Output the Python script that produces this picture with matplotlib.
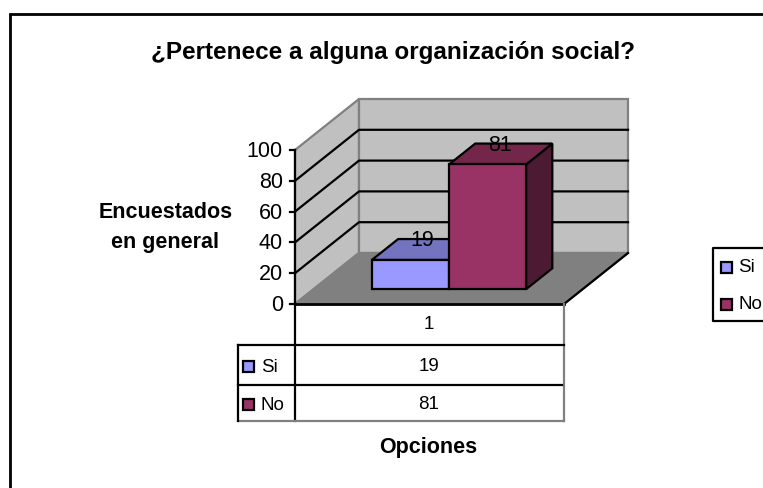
import matplotlib
matplotlib.use("Agg")
import matplotlib.pyplot as plt
from matplotlib.patches import Polygon, Rectangle

plt.rcParams['font.family'] = ['Liberation Sans', 'DejaVu Sans']

title = "¿Pertenece a alguna organización social?"
y_title = ["Encuestados", "en general"]
x_title = "Opciones"
categories = ["1"]
series = ["Si", "No"]
values = [19, 81]
y_ticks = [0, 20, 40, 60, 80, 100]
front_colors = ["#9999FF", "#993366"]
top_colors = ["#7373BF", "#732649"]
side_colors = ["#4D4D80", "#4D1A33"]

W, H = 763, 488
fig = plt.figure(figsize=(W / 100, H / 100), dpi=100)
ax = fig.add_axes([0, 0, 1, 1])
ax.set_xlim(0, W)
ax.set_ylim(H, 0)
ax.axis("off")

# oblique projection
X0, Y0, XW = 295, 304, 269
UNIT = 1.54
DX, DY = 64, -51

def P(frac, val, depth=0.0):
    return (X0 + frac * XW + depth * DX, Y0 - val * UNIT + depth * DY)

LW = 1.6
TOP = max(y_ticks)
# chart frame
ax.plot([10, 10, W], [H, 14, 14], color="black", lw=2.0, solid_joinstyle="miter", zorder=1)

# walls and floor
ax.add_patch(Polygon([P(0, 0), P(0, TOP), P(0, TOP, 1), P(0, 0, 1)], fc="#C0C0C0", ec="#808080", lw=LW))
ax.add_patch(Polygon([P(0, 0, 1), P(0, TOP, 1), P(1, TOP, 1), P(1, 0, 1)], fc="#C0C0C0", ec="#808080", lw=LW))
ax.add_patch(Polygon([P(0, 0), P(0, 0, 1), P(1, 0, 1), P(1, 0)], fc="#808080", ec="#808080", lw=LW))

# gridlines
for v in y_ticks[1:-1]:
    a, b, c = P(0, v), P(0, v, 1), P(1, v, 1)
    ax.plot([a[0], b[0], c[0]], [a[1], b[1], c[1]], color="black", lw=LW, zorder=2)
a, b = P(1, 0), P(1, 0, 1)
ax.plot([a[0], b[0]], [a[1], b[1]], color="black", lw=LW, zorder=2)

# bars
BAR_W = 0.2865
starts = [0.217, 0.5035]
D0, D1 = 0.29, 0.70
for i, (s, v) in enumerate(zip(starts, values)):
    l, r = s, s + BAR_W
    kw = dict(ec="black", lw=LW, joinstyle="miter", zorder=3 + i)
    ax.add_patch(Polygon([P(r, 0, D0), P(r, 0, D1), P(r, v, D1), P(r, v, D0)], fc=side_colors[i], **kw))
    ax.add_patch(Polygon([P(l, v, D0), P(l, v, D1), P(r, v, D1), P(r, v, D0)], fc=top_colors[i], **kw))
    ax.add_patch(Polygon([P(l, 0, D0), P(r, 0, D0), P(r, v, D0), P(l, v, D0)], fc=front_colors[i], **kw))
    cx, cy = P(s + BAR_W / 2, v, (D0 + D1) / 2)
    ax.text(cx - 1, cy - 8.5, str(v), ha="center", va="center", fontsize=15.5, color="black", zorder=8)

# value axis
ax.plot([X0, X0], [Y0, P(0, TOP)[1]], color="black", lw=LW, zorder=6)
for v in y_ticks:
    x, y = P(0, v)
    ax.plot([x - 5, x], [y, y], color="black", lw=LW, zorder=6)
    ax.text(x - 12, y + 1.5, str(v), ha="right", va="center", fontsize=15.5, color="black")

# data table
TL, TR = 238, 564
R = [304, 344.5, 385, 421]
ax.plot([X0, TR], [R[0], R[0]], color="black", lw=2.0, zorder=7)
ax.plot([X0, X0], [R[0], R[3]], color="black", lw=LW, zorder=7)
ax.plot([TR, TR], [R[0], R[3]], color="#808080", lw=LW, zorder=7)
ax.plot([TL, TR], [R[1], R[1]], color="black", lw=LW, zorder=7)
ax.plot([TL, TR - 2], [R[2], R[2]], color="black", lw=LW, zorder=7)
ax.plot([TL, TR], [R[3], R[3]], color="#808080", lw=LW, zorder=7)
ax.plot([TL, TL], [R[1], R[3]], color="black", lw=LW, zorder=7)
tcx = (X0 + TR) / 2 - 1
ax.text(tcx, (R[0] + R[1]) / 2 + 0.5, categories[0], ha="center", va="center", fontsize=13.5)
for i, name in enumerate(series):
    cy = (R[i + 1] + R[i + 2]) / 2 + 1.5
    ax.text(tcx, cy, str(values[i]), ha="center", va="center", fontsize=13.5)
    ax.add_patch(Rectangle((243, cy - 5.5), 11, 11, fc=front_colors[i], ec="black", lw=LW, zorder=7))
    ax.text(261, cy + 1, name, ha="left", va="center", fontsize=13.5)

# axis titles and chart title
ax.text(393, 52, title, ha="center", va="center", fontsize=17.5, fontweight="bold")
ax.text(165.5, 212, y_title[0], ha="center", va="center", fontsize=15.5, fontweight="bold")
ax.text(165, 242.5, y_title[1], ha="center", va="center", fontsize=15.5, fontweight="bold")
ax.text(428, 448, x_title, ha="center", va="center", fontsize=15.5, fontweight="bold")

# legend
ax.plot([W + 5, 713, 713, W + 5], [248, 248, 321, 321], color="black", lw=LW, zorder=7)
for i, name in enumerate(series):
    ly = 267.5 + i * 36.5
    ax.add_patch(Rectangle((721, ly - 5.5), 11, 11, fc=front_colors[i], ec="black", lw=LW, zorder=7))
    ax.text(738.5, ly + 0.5, name, ha="left", va="center", fontsize=13.5, clip_on=True)

fig.savefig("out.png", dpi=100)
